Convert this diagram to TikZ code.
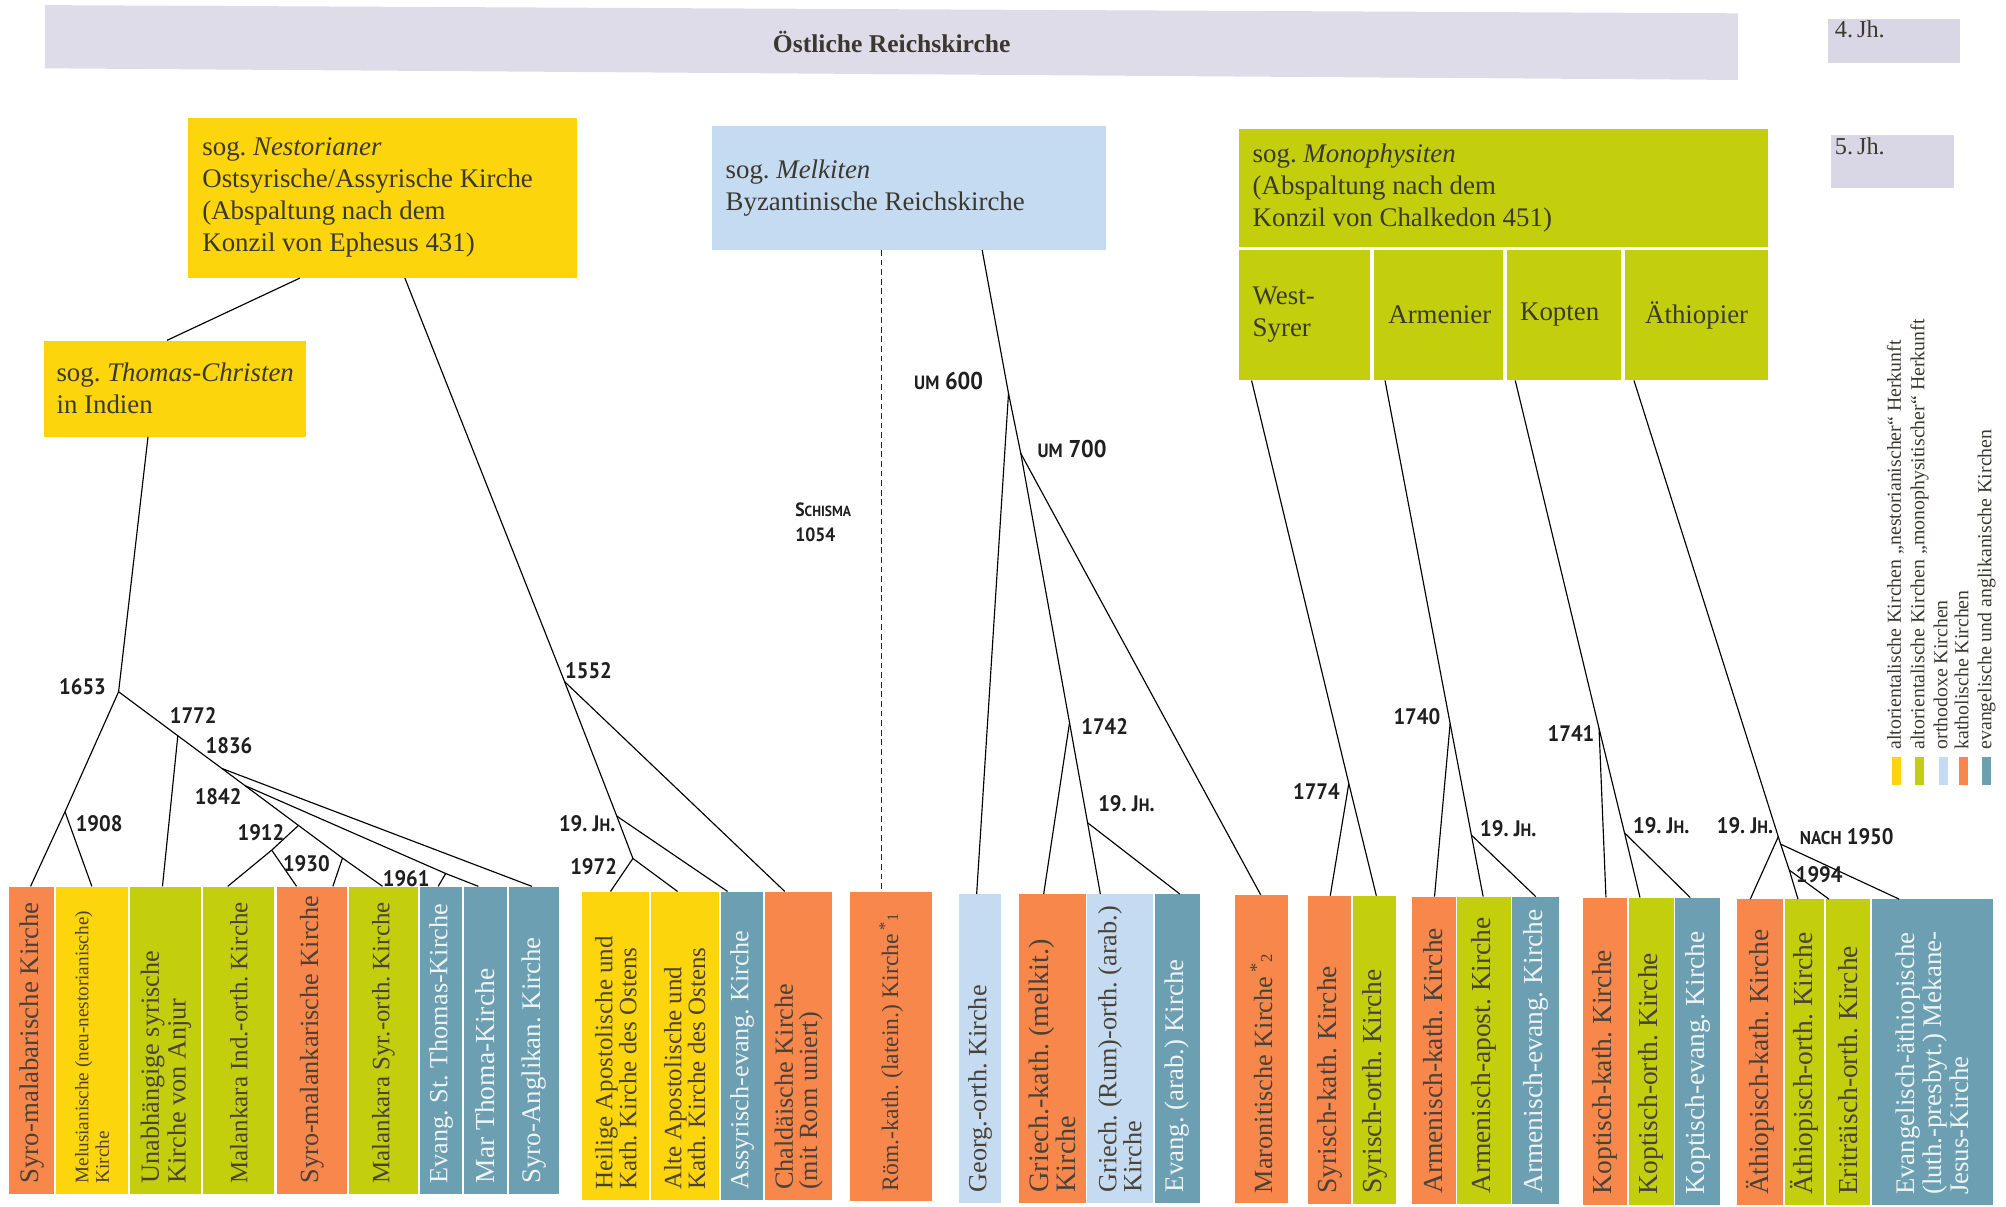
\documentclass[tikz,border=0pt]{standalone}
\usepackage{fontspec}
\setmainfont{Liberation Serif}
\newfontfamily\labfont[FakeStretch=0.92]{PT Sans}
\usetikzlibrary{calc}
\definecolor{cYel}{HTML}{FDD50C}
\definecolor{cGrn}{HTML}{C3CF0C}
\definecolor{cLbl}{HTML}{C4DBF1}
\definecolor{cOra}{HTML}{F8874C}
\definecolor{cBgr}{HTML}{6B9FB1}
\definecolor{cLav}{HTML}{DFDCEA}
\definecolor{cJh}{HTML}{D9D7E5}
\definecolor{cTxt}{HTML}{3B3830}
\definecolor{cDk}{HTML}{4A4238}
\definecolor{cWt}{HTML}{EEF3F4}
\frenchspacing
\newcommand\scl[2][14]{{\fontsize{#1}{#1}\selectfont #2}}
\newcommand\chl[1]{\mbox{\spaceskip=0pt\xspaceskip=0pt\frenchspacing #1}}
\newcommand\churchbox[7]{%
  \pgfmathsetmacro\cbw{#3-#2}%
  \pgfmathsetmacro\cbh{#5-#4}%
  \pgfmathsetmacro\cbx{(#2+#3)/2}%
  \pgfmathsetmacro\cby{(#4+#5)/2}%
  \pgfmathsetmacro\cbt{#5-#4-16}%
  \node[cb, minimum width=\cbh pt, minimum height=\cbw pt, text width=\cbt pt, #6] (#1) at (\cbx,\cby) {#7};}
\begin{document}
\begin{tikzpicture}[x=1pt,y=-1pt,
  hb/.style={anchor=north west, inner xsep=11pt, inner ysep=0pt, align=left, text=cTxt, font=\fontsize{21}{25}\selectfont},
  cb/.style={rotate=90, inner xsep=8pt, inner ysep=0pt, align=left, text=cDk, font=\fontsize{20.5}{20}\selectfont},
  cbr/.style={font=\fontsize{21.5}{20}\selectfont},
  conn/.style={draw=black, line width=0.9pt},
  dconn/.style={draw=black!85, line width=0.8pt, dash pattern=on 4.5pt off 3pt},
  lab/.style={inner sep=0pt, text=black!88, font=\labfont\fontsize{17.5}{17.5}\selectfont\bfseries},
  leg/.style={rotate=90, anchor=west, inner sep=0pt, text height=11pt, text depth=3.8pt, text=cTxt, font=\fontsize{15.5}{15.5}\selectfont},
  sw/.style={minimum width=7pt, minimum height=22pt, inner sep=0pt},
  jht/.style={anchor=base west, inner sep=0pt, text=cTxt, font=\fontsize{19}{19}\selectfont}]
\useasboundingbox (0,0) rectangle (1568,943);

% top bar and century boxes
\fill[cLav] (35,4) -- (1358.5,10.4) -- (1358.5,62.5) -- (35,53.4) -- cycle;
\node[text=cTxt, font=\fontsize{20}{20}\selectfont\bfseries] (topt) at (697,32.5) {Östliche Reichskirche};
\node[fill=cJh, minimum width=103pt, minimum height=35pt, anchor=north west, inner sep=0pt] (jh4) at (1428.5,14.3) {};
\node[jht] (jh4t) at (1434,29) {4.\,Jh.};
\node[fill=cJh, minimum width=96.5pt, minimum height=41.5pt, anchor=north west, inner sep=0pt] (jh5) at (1431,105.5) {};
\node[jht] (jh5t) at (1434,121) {5.\,Jh.};

% header boxes
\node[hb, fill=cYel, minimum width=304pt, minimum height=125pt, text width=282pt] (nest) at (147,92)
 {\chl{sog. \textit{Nestorianer}}\\\chl{Ostsyrische/Assyrische Kirche}\\\chl{(Abspaltung nach dem}\\\chl{Konzil von Ephesus 431)}};
\node[hb, fill=cLbl, minimum width=308pt, minimum height=97pt, text width=286pt] (melk) at (556,98)
 {\chl{sog. \textit{Melkiten}}\\\chl{Byzantinische Reichskirche}};
\node[hb, fill=cGrn, minimum width=414pt, minimum height=92pt, text width=392pt] (mono) at (968,101)
 {\chl{sog. \textit{Monophysiten}}\\\chl{(Abspaltung nach dem}\\\chl{Konzil von Chalkedon 451)}};
\node[hb, fill=cGrn, minimum width=103pt, minimum height=102pt, text width=81pt] (ws) at (968,195) {West-\\Syrer};
\node[hb, fill=cGrn, minimum width=101pt, minimum height=102pt, text width=79pt, align=center] (ar) at (1074,195) {Armenier};
\node[hb, fill=cGrn, minimum width=89pt, minimum height=102pt, text width=71pt, inner xsep=9pt, align=left] (ko) at (1178,195) {\hspace*{1pt}Kopten};
\node[hb, fill=cGrn, minimum width=112pt, minimum height=102pt, text width=90pt, align=center] (ae) at (1270,195) {Äthiopier};
\node[hb, fill=cYel, minimum width=205pt, minimum height=75pt, text width=185pt, inner xsep=10pt] (thomas) at (34,266)
 {\chl{sog. \textit{Thomas-Christen}}\\\chl{in Indien}};

% bottom boxes
\churchbox{b1}{7}{42.5}{693}{933}{fill=cOra, font=\fontsize{21}{20}\selectfont}{\chl{Syro-malabarische Kirche}}
\churchbox{b2}{44}{100}{693}{933}{fill=cYel, font=\fontsize{15}{16}\selectfont}{\chl{Melusianische (neu-nestorianische)}\\\chl{Kirche}}
\churchbox{b3}{102}{157.5}{693}{933}{fill=cGrn, font=\fontsize{20.5}{21}\selectfont}{\chl{Unabhängige syrische}\\\chl{Kirche von Anjur}}
\churchbox{b4}{159}{214.5}{693}{933}{fill=cGrn, font=\fontsize{19.5}{20}\selectfont}{\chl{Malankara Ind.-orth. Kirche}}
\churchbox{b5}{216.5}{271}{693}{933}{fill=cOra}{\chl{Syro-malankarische Kirche}}
\churchbox{b6}{273}{326.5}{693}{933}{fill=cGrn, font=\fontsize{19.5}{20}\selectfont}{\chl{Malankara Syr.-orth. Kirche}}
\churchbox{b7}{328}{361.5}{693}{933}{fill=cBgr, text=cWt}{\chl{Evang. St. Thomas-Kirche}}
\churchbox{b8}{363}{396}{693}{933}{fill=cBgr, text=cWt, font=\fontsize{21.5}{20}\selectfont}{\chl{Mar Thoma-Kirche}}
\churchbox{b9}{397.5}{437}{693}{933}{fill=cBgr, text=cWt, font=\fontsize{21}{20}\selectfont}{\chl{Syro-Anglikan. Kirche}}

\churchbox{b10}{455.3}{507.6}{697}{938}{fill=cYel, font=\fontsize{19.5}{17}\selectfont}{\chl{Heilige Apostolische und}\\\chl{Kath. Kirche des Ostens}}
\churchbox{b11}{508.8}{561.7}{697}{938}{fill=cYel, font=\fontsize{19.5}{17.5}\selectfont}{\chl{Alte Apostolische und}\\\chl{Kath. Kirche des Ostens}}
\churchbox{b12}{563.4}{596.6}{697}{938}{fill=cBgr, text=cWt}{\chl{Assyrisch-evang. Kirche}}
\churchbox{b13}{597.8}{650.7}{697}{938}{fill=cOra, font=\fontsize{20.5}{19}\selectfont}{\chl{Chaldäische Kirche}\\\chl{(mit Rom uniert)}}
\churchbox{b14}{664.7}{728.5}{697.5}{939}{fill=cOra, font=\fontsize{18.5}{20}\selectfont}{\chl{Röm.-kath. (latein.) Kirche\,\textsuperscript{*}\scl[12.5]{1}}}

\churchbox{b15}{749.5}{782.6}{699}{940}{fill=cLbl}{\chl{Georg.-orth. Kirche}}
\churchbox{b16}{796.6}{848.6}{699}{940}{fill=cOra, font=\fontsize{22}{18}\selectfont}{\chl{Griech.-kath. (melkit.)}\\\chl{Kirche}}
\churchbox{b17}{849.8}{901}{699}{940}{fill=cLbl, font=\fontsize{20.5}{17.5}\selectfont}{\chl{Griech. (Rum)-orth. (arab.)}\\\chl{Kirche}}
\churchbox{b18}{902.5}{937.9}{699}{940}{fill=cBgr, text=cWt, font=\fontsize{21}{20}\selectfont}{\chl{Evang. (arab.) Kirche}}

\churchbox{b19}{965.4}{1006.5}{699.6}{940.6}{fill=cOra}{\chl{Maronitische Kirche\,\textsuperscript{*}\scl[13]{2}}}
\churchbox{b20}{1022.2}{1056.3}{700.3}{941}{fill=cOra, cbr}{\chl{Syrisch-kath. Kirche}}
\churchbox{b21}{1057.4}{1091.5}{700.3}{941}{fill=cGrn, cbr}{\chl{Syrisch-orth. Kirche}}
\churchbox{b22}{1103.3}{1137.7}{701}{941}{fill=cOra, cbr}{\chl{Armenisch-kath. Kirche}}
\churchbox{b23}{1139.2}{1180.8}{701}{941}{fill=cGrn, cbr}{\chl{Armenisch-apost. Kirche}}
\churchbox{b24}{1182}{1218.5}{701}{941}{fill=cBgr, text=cWt, cbr}{\chl{Armenisch-evang. Kirche}}
\churchbox{b25}{1237.7}{1271.7}{701.7}{941.5}{fill=cOra, cbr}{\chl{Koptisch-kath. Kirche}}
\churchbox{b26}{1273}{1308.2}{701.7}{941.5}{fill=cGrn, cbr}{\chl{Koptisch-orth. Kirche}}
\churchbox{b27}{1309.4}{1344.2}{701.7}{941.5}{fill=cBgr, text=cWt, cbr}{\chl{Koptisch-evang. Kirche}}
\churchbox{b28}{1358}{1394}{703}{942}{fill=cOra, cbr}{\chl{Äthiopisch-kath. Kirche}}
\churchbox{b29}{1395.2}{1425.7}{703}{942}{fill=cGrn, cbr}{\chl{Äthiopisch-orth. Kirche}}
\churchbox{b30}{1427}{1461.8}{703}{942}{fill=cGrn, cbr}{\chl{Eriträisch-orth. Kirche}}
\churchbox{b31}{1463}{1557.8}{703}{942}{fill=cBgr, text=cWt, font=\fontsize{21}{21}\selectfont}{\chl{Evangelisch-äthiopische}\\\chl{(luth.-presbyt.) Mekane-}\\\chl{Jesus-Kirche}}

% junctions
\coordinate (j1653) at (92.7,540.7);
\coordinate (j1908) at (50.8,634.5);
\coordinate (j1772) at (139,575.1);
\coordinate (j1836) at (173.5,600.7);
\coordinate (j1842) at (191.4,614.0);
\coordinate (j1912) at (233.3,645.2);
\coordinate (j1930) at (212.4,664.5);
\coordinate (jmsx) at (267.7,670.7);
\coordinate (j1961) at (348.4,682.8);
\coordinate (j1552) at (441.3,532.8);
\coordinate (j19a) at (482.1,637.9);
\coordinate (j1972) at (494.7,671);
\coordinate (j600) at (788.3,307.5);
\coordinate (j700) at (797.9,354.4);
\coordinate (j1742) at (836.0,564.9);
\coordinate (j19b) at (850.1,643.1);
\coordinate (j1774) at (1054.3,612.4);
\coordinate (j1740) at (1133.5,565.5);
\coordinate (j19c) at (1150.1,652.7);
\coordinate (j1741) at (1249.9,569.4);
\coordinate (j19d) at (1269.8,651);
\coordinate (j19e) at (1390,654);
\coordinate (j1950) at (1391.8,659.8);
\coordinate (j1994) at (1398.6,680.1);

% connectors: Thomas-Christen
\draw[conn] (234.3,0 |- nest.south) -- (130.6,0 |- thomas.north);
\draw[conn] (115.7,0 |- thomas.south) -- (j1653);
\draw[conn] (j1653) -- (j1908) -- (23.9,0 |- b1.east);
\draw[conn] (j1908) -- (71.8,0 |- b2.east);
\draw[conn] (j1653) -- (j1772) -- (j1836) -- (j1842) -- (j1912) -- (jmsx) -- (299,0 |- b6.east);
\draw[conn] (j1772) -- (127,0 |- b3.east);
\draw[conn] (j1836) -- (415.7,0 |- b9.east);
\draw[conn] (j1842) -- (j1961) -- (373.9,0 |- b8.east);
\draw[conn] (j1912) -- (j1930) -- (178,0 |- b4.east);
\draw[conn] (j1930) -- (231.8,0 |- b5.east);
\draw[conn] (jmsx) -- (260.2,0 |- b5.east);
\draw[conn] (j1961) -- (342.5,0 |- b7.east);
% Nestorianer
\draw[conn] (316.5,0 |- nest.south) -- (j1552) -- (j19a) -- (j1972) -- (477.2,0 |- b10.east);
\draw[conn] (j1552) -- (613.4,0 |- b13.east);
\draw[conn] (j19a) -- (568.7,0 |- b12.east);
\draw[conn] (j1972) -- (529.6,0 |- b11.east);
% Melkiten
\draw[dconn] (689,0 |- melk.south) -- (689,0 |- b14.east);
\draw[conn] (767.7,0 |- melk.south) -- (j600) -- (j700) -- (j1742) -- (j19b) -- (860.1,0 |- b17.east);
\draw[conn] (j600) -- (763.4,0 |- b15.east);
\draw[conn] (j700) -- (985.4,0 |- b19.east);
\draw[conn] (j1742) -- (815.8,0 |- b16.east);
\draw[conn] (j19b) -- (922.2,0 |- b18.east);
% Monophysiten
\draw[conn] (978.3,0 |- ws.south) -- (j1774) -- (1075.8,0 |- b21.east);
\draw[conn] (j1774) -- (1039.8,0 |- b20.east);
\draw[conn] (1082.6,0 |- ar.south) -- (j1740) -- (j19c) -- (1159.3,0 |- b23.east);
\draw[conn] (j1740) -- (1121.3,0 |- b22.east);
\draw[conn] (j19c) -- (1200.4,0 |- b24.east);
\draw[conn] (1184.4,0 |- ko.south) -- (j1741) -- (j19d) -- (1281.9,0 |- b26.east);
\draw[conn] (j1741) -- (1255.3,0 |- b25.east);
\draw[conn] (j19d) -- (1321.1,0 |- b27.east);
\draw[conn] (1277.2,0 |- ae.south) -- (j19e) -- (j1950) -- (j1994) -- (1405.4,0 |- b29.east);
\draw[conn] (j19e) -- (1368.1,0 |- b28.east);
\draw[conn] (j1950) -- (1484.5,0 |- b31.east);
\draw[conn] (j1994) -- (1429.6,0 |- b30.east);

% date labels
\node[lab] (l1653) at (64.5,537) {1653};
\node[lab] (l1772) at (151,559) {1772};
\node[lab] (l1836) at (179,583) {1836};
\node[lab] (l1842) at (170.5,623) {1842};
\node[lab] (l1908) at (77.5,644) {1908};
\node[lab] (l1912) at (204,651) {1912};
\node[lab] (l1930) at (239.5,675) {1930};
\node[lab] (l1961) at (317.5,687) {1961};
\node[lab] (l1552) at (460,524) {1552};
\node[lab] (l19a) at (459,644) {19. J\scl{H}.};
\node[lab] (l1972) at (464,677.5) {1972};
\node[lab, font=\labfont\fontsize{19}{19}\selectfont\bfseries] (l600) at (741.5,298) {\scl[15]{UM} 600};
\node[lab, font=\labfont\fontsize{19}{19}\selectfont\bfseries] (l700) at (838,351) {\scl[15]{UM} 700};
\node[lab, anchor=west, align=left, font=\labfont\fontsize{15}{19.5}\selectfont\bfseries] (lschisma) at (621.5,408) {S\scl[11.5]{CHISMA}\\1054};
\node[lab] (l1742) at (863.5,567.5) {1742};
\node[lab] (l19b) at (880.5,628) {19. J\scl{H}.};
\node[lab] (l1774) at (1029,619) {1774};
\node[lab] (l1740) at (1107.5,560) {1740};
\node[lab] (l19c) at (1179,648) {19. J\scl{H}.};
\node[lab] (l1741) at (1228,573) {1741};
\node[lab] (l19d) at (1298.5,645) {19. J\scl{H}.};
\node[lab] (l19e) at (1364,645) {19. J\scl{H}.};
\node[lab] (l1950) at (1443.5,654) {\scl[14.5]{NACH} 1950};
\node[lab] (l1994) at (1422,684) {1994};

% legend
\node[leg] (lg1) at (1482.2,586) {altorientalische Kirchen „nestorianischer“ Herkunft};
\node[leg] (lg2) at (1500.5,586) {altorientalische Kirchen „monophysitischer“ Herkunft};
\node[leg] (lg3) at (1518.5,586) {orthodoxe Kirchen};
\node[leg] (lg4) at (1535,586) {katholische Kirchen};
\node[leg] (lg5) at (1553,586) {evangelische und anglikanische Kirchen};
\node[sw, fill=cYel] (s1) at (1482.2,602.5) {};
\node[sw, fill=cGrn] (s2) at (1500.5,602.5) {};
\node[sw, fill=cLbl] (s3) at (1519.2,602.5) {};
\node[sw, fill=cOra] (s4) at (1535,602.5) {};
\node[sw, fill=cBgr] (s5) at (1553,602.5) {};
\end{tikzpicture}
\end{document}
